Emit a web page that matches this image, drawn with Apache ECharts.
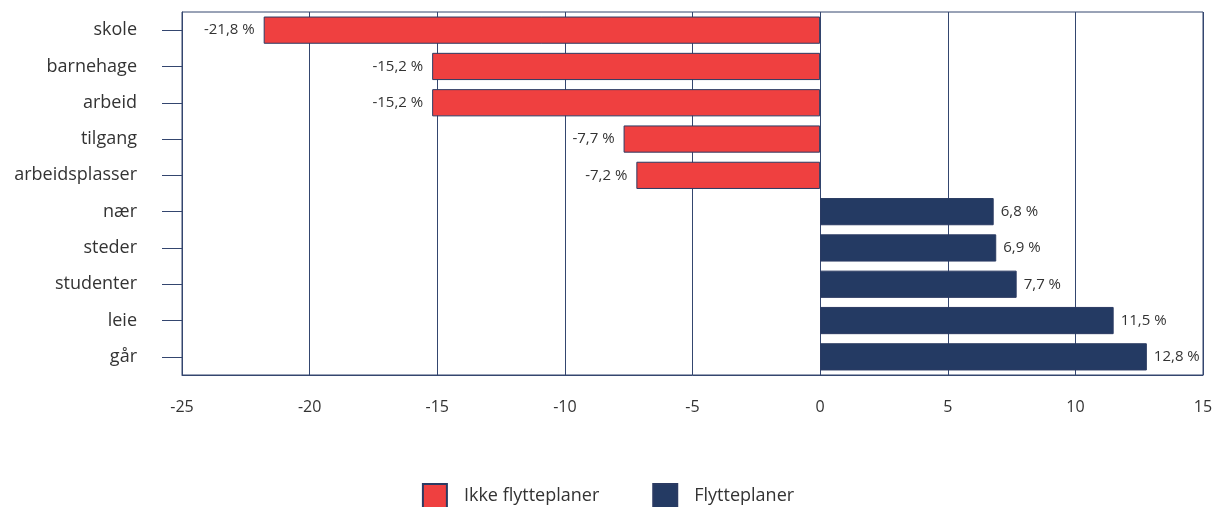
<!DOCTYPE html>
<html>
<head>
<meta charset="utf-8">
<script src="https://cdn.jsdelivr.net/npm/echarts@6/dist/echarts.min.js"></script>
<style>
  html, body { margin: 0; padding: 0; background: #fff; }
  #chart { width: 1216px; height: 507px; }
</style>
</head>
<body>
<div id="chart"></div>
<script>
// Words and their share difference (%) between the two groups
const categories = ['skole', 'barnehage', 'arbeid', 'tilgang', 'arbeidsplasser', 'nær', 'steder', 'studenter', 'leie', 'går'];
const ikkeFlytteplaner = [-21.8, -15.2, -15.2, -7.7, -7.2, null, null, null, null, null];
const flytteplaner = [null, null, null, null, null, 6.8, 6.9, 7.7, 11.5, 12.8];
const xTicks = { min: -25, max: 15, interval: 5 };

const axisColor = '#34466f';
const fontFamily = '"Open Sans", "Noto Sans", sans-serif';
const fmt = p => p.value == null ? '' : p.value.toFixed(1).replace('.', ',') + ' %';

const chart = echarts.init(document.getElementById('chart'));
chart.setOption({
  animation: false,
  textStyle: { fontFamily },
  grid: {
    left: 182, right: 13, top: 12, bottom: 132,
    show: true, borderColor: axisColor, borderWidth: 1
  },
  legend: {
    top: 483,
    left: 'center',
    padding: 0,
    itemWidth: 24,
    itemHeight: 24,
    itemGap: 53,
    icon: 'rect',
    textStyle: { fontSize: 18, color: '#333', fontFamily, padding: [0, 0, 0, 12] },
    data: ['Ikke flytteplaner', 'Flytteplaner']
  },
  xAxis: {
    type: 'value',
    min: xTicks.min, max: xTicks.max, interval: xTicks.interval,
    axisLine: { show: true, lineStyle: { color: axisColor } },
    axisTick: { show: false },
    splitLine: { show: true, lineStyle: { color: axisColor, width: 1 } },
    axisLabel: { fontSize: 16, color: '#333', margin: 24 }
  },
  yAxis: {
    type: 'category',
    data: categories,
    inverse: true,
    axisLine: { show: true, onZero: false, lineStyle: { color: axisColor } },
    axisTick: { show: true, alignWithLabel: true, length: 20, lineStyle: { color: axisColor } },
    axisLabel: { fontSize: 18, color: '#333', margin: 45 }
  },
  series: [
    {
      name: 'Ikke flytteplaner',
      type: 'bar',
      stack: 'all',
      data: ikkeFlytteplaner,
      barCategoryGap: '25%',
      itemStyle: { color: '#ef4040', borderColor: '#2b3b63', borderWidth: 1 },
      label: { show: true, position: 'left', distance: 9, formatter: fmt, fontSize: 15, color: '#333' }
    },
    {
      name: 'Flytteplaner',
      type: 'bar',
      stack: 'all',
      data: flytteplaner,
      barCategoryGap: '25%',
      itemStyle: { color: '#243a63', borderColor: '#2b3b63', borderWidth: 1 },
      label: { show: true, position: 'right', distance: 7, formatter: fmt, fontSize: 15, color: '#333' }
    }
  ]
});
</script>
</body>
</html>
